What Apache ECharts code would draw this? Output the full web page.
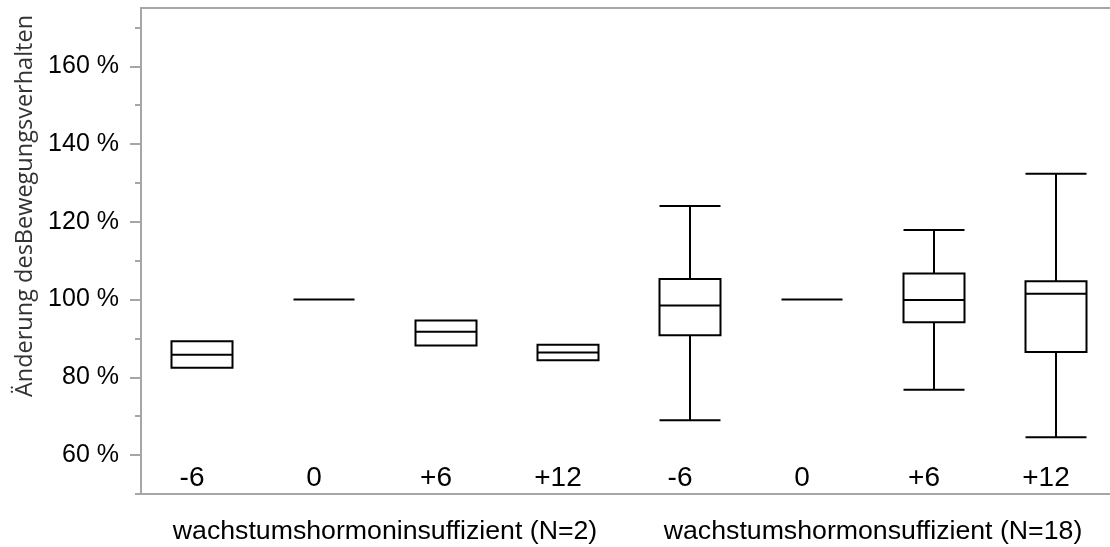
<!DOCTYPE html>
<html><head><meta charset="utf-8">
<script src="https://cdn.jsdelivr.net/npm/echarts@6/dist/echarts.min.js"></script>
<style>html,body{margin:0;padding:0;background:#fff}#c{width:1110px;height:547px}</style>
</head><body><div id="c"></div>
<script>
const categories = ['-6', '0', '+6', '+12', '-6', '0', '+6', '+12'];
const groups = ['wachstumshormoninsuffizient (N=2)', 'wachstumshormonsuffizient (N=18)'];
// box statistics in % : min, Q1, median, Q3, max
const boxMin    = [82.5, 100, 88.2, 84.4, 69.0, 100, 76.8, 64.6];
const boxQ1     = [82.5, 100, 88.2, 84.4, 90.8, 100, 94.2, 86.5];
const boxMedian = [85.8, 100, 91.7, 86.4, 98.5, 100, 99.9, 101.5];
const boxQ3     = [89.3, 100, 94.6, 88.4, 105.3, 100, 106.7, 104.7];
const boxMax    = [89.3, 100, 94.6, 88.4, 124.1, 100, 117.9, 132.4];
const yMajorTicks = [60, 80, 100, 120, 140, 160];
const yMinorTicks = [50, 70, 90, 110, 130, 150, 170];
const yAxisTitle = 'Änderung desBewegungsverhalten';

const gray = '#a6a6a6';
const chart = echarts.init(document.getElementById('c'), null, {renderer: 'canvas'});
const boxData = categories.map((c, i) => [boxMin[i], boxQ1[i], boxMedian[i], boxQ3[i], boxMax[i]]);

chart.setOption({
  animation: false,
  backgroundColor: '#fff',
  grid: {left: 141, top: 8, width: 976, bottom: 53, show: true, borderColor: gray, borderWidth: 2,
         containLabel: false, outerBoundsMode: 'none'},
  xAxis: [{
    type: 'category', data: categories, position: 'bottom',
    axisLine: {show: true, lineStyle: {color: gray, width: 2}},
    axisTick: {show: false},
    splitLine: {show: false},
    axisLabel: {inside: true, margin: 2, fontSize: 28, color: '#000', fontFamily: 'Liberation Sans', padding: [0, 20, 0, 0], interval: 0}
  }, {
    type: 'category', data: groups, position: 'bottom',
    axisLine: {show: false}, axisTick: {show: false}, splitLine: {show: false},
    axisLabel: {margin: 24, fontSize: 26.7, color: '#000', fontFamily: 'Liberation Sans', interval: 0}
  }],
  yAxis: [{
    type: 'value', min: 50, max: 175, interval: 10, position: 'left',
    axisLine: {show: true, lineStyle: {color: gray, width: 2}},
    axisTick: {show: true, customValues: yMajorTicks, length: 11, lineStyle: {color: gray, width: 2}},
    axisLabel: {customValues: yMajorTicks, formatter: v => v + ' %', margin: 22, fontSize: 25, color: '#000', fontFamily: 'Liberation Sans'},
    splitLine: {show: false},
    name: yAxisTitle, nameLocation: 'middle', nameGap: 104, nameRotate: 90,
    nameTextStyle: {fontSize: 23.5, color: '#333', fontFamily: 'Open Sans', padding: [0, 0, 0, 90]}
  }, {
    type: 'value', min: 50, max: 175, interval: 10, position: 'left',
    axisLine: {show: false},
    axisTick: {show: true, customValues: yMinorTicks, length: 6, lineStyle: {color: gray, width: 2}},
    axisLabel: {show: false},
    splitLine: {show: false}
  }],
  series: [{
    type: 'boxplot', xAxisIndex: 0, yAxisIndex: 0,
    data: boxData,
    boxWidth: [61, 61],
    itemStyle: {color: '#fff', borderColor: '#000', borderWidth: 2},
    emphasis: {disabled: true}
  }]
});
</script></body></html>
